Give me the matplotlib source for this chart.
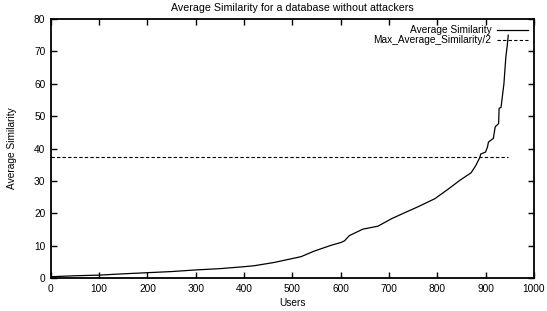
import matplotlib
matplotlib.use('Agg')
import matplotlib.pyplot as plt

# users sorted by average similarity
users = [0, 50, 100, 150, 200, 250, 300, 350, 400, 421, 462, 490, 518, 545,
         580, 601, 608, 618, 646, 677, 705, 730, 760, 795, 823, 847, 870,
         880, 888, 890, 900, 904, 906, 916, 920, 927, 928, 932, 938, 942,
         945, 947]
avg_sim = [0.4, 0.7, 0.9, 1.3, 1.65, 2.0, 2.5, 2.9, 3.5, 3.8, 4.8, 5.7, 6.6,
           8.3, 10.1, 11.0, 11.5, 13.1, 15.1, 16.0, 18.3, 20.0, 22.0, 24.5,
           27.5, 30.2, 32.5, 34.8, 37.2, 38.3, 38.9, 40.5, 42.0, 43.1, 46.7,
           47.7, 52.4, 52.7, 60.0, 68.3, 72.0, 75.0]
half_max = max(avg_sim) / 2
n_users = 947

plt.rcParams['font.family'] = ['Liberation Sans', 'DejaVu Sans']

fig = plt.figure(figsize=(5.47, 3.11), dpi=100)
ax = fig.add_axes([0.093, 0.106, 0.883, 0.833])

ax.plot(users, avg_sim, color='black', linewidth=0.9, label='Average Similarity')
ax.plot([0, n_users], [half_max, half_max], color='black', linewidth=0.8,
        linestyle=(0, (3, 2)), label='Max_Average_Similarity/2')

ax.set_xlim(0, 1000)
ax.set_ylim(0, 80)
ax.set_xticks(range(0, 1001, 100))
ax.set_yticks(range(0, 81, 10))
ax.tick_params(direction='in', top=True, right=True, length=4, width=1,
               labelsize=7.3, pad=4)
for s in ax.spines.values():
    s.set_linewidth(1.3)

ax.set_title('Average Similarity for a database without attackers', fontsize=7.7, pad=6)
ax.set_xlabel('Users', fontsize=7.3, labelpad=3)
ax.set_ylabel('Average Similarity', fontsize=7.3, labelpad=12)

ax.legend(loc='upper right', frameon=False, markerfirst=False, fontsize=7.3,
          handlelength=3.0, handletextpad=0.6, labelspacing=0.0,
          borderaxespad=0.2)

fig.savefig('out.png', dpi=100)
